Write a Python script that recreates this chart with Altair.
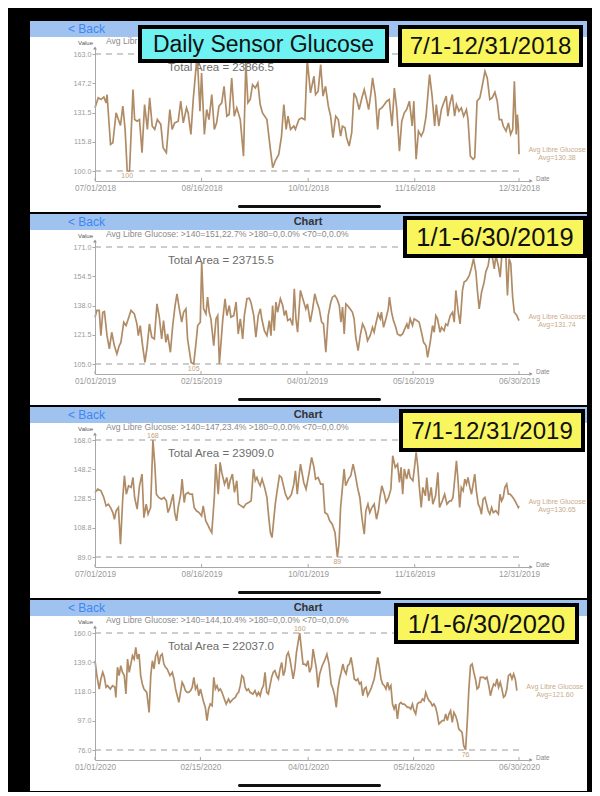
import altair as alt
import pandas as pd

FONT = "Liberation Sans"
LINE_COLOR = "#b08c66"

# ---------------- data ----------------
starts = ["2018-07-01", "2019-01-01", "2019-07-01", "2020-01-01"]
ends = ["2018-12-31", "2019-06-30", "2019-12-31", "2020-06-30"]
tick_dates = [
    ["2018-07-01", "2018-08-16", "2018-10-01", "2018-11-16", "2018-12-31"],
    ["2019-01-01", "2019-02-15", "2019-04-01", "2019-05-16", "2019-06-30"],
    ["2019-07-01", "2019-08-16", "2019-10-01", "2019-11-16", "2019-12-31"],
    ["2020-01-01", "2020-02-15", "2020-04-01", "2020-05-16", "2020-06-30"],
]
y_ticks = [
    [163.0, 147.2, 131.5, 115.8, 100.0],
    [171.0, 154.5, 138.0, 121.5, 105.0],
    [168.0, 148.2, 128.5, 108.8, 89.0],
    [160.0, 139.0, 118.0, 97.0, 76.0],
]
period_labels = ["7/1-12/31/2018", "1/1-6/30/2019", "7/1-12/31/2019", "1/1-6/30/2020"]
total_areas = ["23866.5", "23715.5", "23909.0", "22037.0"]
avg_values = ["130.38", "131.74", "130.65", "121.60"]
stats_texts = [
    "Avg Libr",
    "Avg Libre Glucose: >140=151,22.7%  >180=0,0.0%  <70=0,0.0%",
    "Avg Libre Glucose: >140=147,23.4%  >180=0,0.0%  <70=0,0.0%",
    "Avg Libre Glucose: >140=144,10.4%  >180=0,0.0%  <70=0,0.0%",
]
title_text = "Daily Sensor Glucose"
show_max_label = [False, False, True, True]
show_chart_title = [False, True, True, True]

days_2018b = [0, 1.4, 2.6, 3.8, 4.8, 5.2, 6.7, 7.7, 9.1, 10.1,
              11.0, 12.0, 13.0, 13.9, 14.9, 16.4, 17.1, 18.2, 19.2, 20.3,
              21.4, 22.6, 23.6, 24.7, 25.8, 26.9, 28.4, 29.4, 30.8, 32.3,
              33.3, 34.4, 35.9, 37.0, 38.1, 39.5, 40.2, 41.4, 42.4, 43.4,
              44.1, 45.3, 46.0, 47.2, 48.2, 49.2, 50.4, 51.5, 52.5, 53.5,
              54.7, 55.7, 56.9, 57.9, 59.0, 60.1, 61.2, 62.7, 64.1, 65.1,
              66.0, 67.0, 68.0, 69.2, 70.3, 71.3, 72.3, 74.2, 75.7, 76.7,
              77.8, 79.3, 80.5, 81.5, 82.5, 83.3, 84.4, 85.8, 86.5, 88.0,
              89.1, 90.6, 91.6,
              93.0, 94.5, 95.2, 96.3, 97.4, 98.4, 99.5, 100.7, 101.7, 102.7,
              103.9, 105.0, 106.0, 106.8, 107.9, 108.6, 109.7, 110.8, 111.8, 112.8,
              114.0, 115.2, 116.2, 117.2, 118.1, 119.1, 119.8, 121.0, 122.0, 122.7,
              123.8, 124.9, 125.9, 127.0, 128.2, 129.2, 130.2, 131.4, 132.4, 133.5,
              134.5, 135.7, 136.9, 137.6, 138.6, 139.6, 140.8, 141.8, 142.9, 144.4,
              145.5, 146.6, 147.3, 148.4, 149.5, 150.5, 151.6, 152.3, 153.1, 154.2,
              155.2, 156.0, 157.1, 158.1, 159.1, 160.3, 161.0, 162.0, 163.2, 163.9,
              164.9, 166.1, 167.1, 168.3, 169.3, 170.4, 171.4, 172.6, 173.6, 174.5,
              175.5, 176.2, 177.4, 178.4, 179.4, 180.3, 181.0, 181.8, 182.3, 182.7,
              183.0]
vals_2018b = [134.0, 139.4, 138.5, 139.9, 136.7, 141.2, 114.3, 115.2, 131.3, 127.7,
              124.5, 134.9, 122.4, 100.0, 100.0, 143.8, 127.7, 126.8, 127.7, 109.8,
              135.8, 122.4, 139.4, 124.2, 122.4, 127.7, 125.1, 112.5, 109.8, 133.1,
              122.4, 125.9, 126.8, 137.6, 125.9, 134.0, 131.3, 119.7, 138.5, 152.8,
              163.0, 132.2, 152.8, 119.7, 133.1, 127.7, 141.2, 122.4, 125.9, 134.9,
              136.7, 145.6, 129.5, 130.4, 150.1, 129.5, 134.0, 127.7, 108.0, 158.2,
              136.7, 138.5, 146.5, 144.7, 147.4, 135.8, 131.3, 127.7, 111.6, 101.8,
              105.4, 108.9, 118.8, 135.8, 122.4, 129.5, 122.4, 124.2, 122.4, 127.7,
              128.6, 127.7, 160.0,
              142.1, 151.0, 141.2, 143.0, 157.3, 140.3, 145.6, 134.9, 129.5, 117.9,
              129.5, 127.7, 118.8, 124.2, 123.3, 117.9, 113.4, 120.6, 142.1, 139.4,
              133.1, 139.4, 143.8, 138.5, 133.1, 142.1, 150.1, 140.3, 122.4, 133.1,
              134.0, 135.8, 137.6, 138.5, 124.2, 144.7, 134.0, 110.7, 126.8, 131.3,
              133.1, 137.6, 124.2, 137.6, 106.3, 121.5, 118.8, 121.5, 129.5, 151.9,
              140.3, 124.2, 135.8, 124.2, 133.1, 136.7, 140.3, 129.5, 135.8, 141.2,
              129.5, 135.8, 132.2, 134.0, 129.5, 133.1, 127.7, 108.0, 106.3, 107.2,
              137.6, 139.4, 145.6, 153.7, 150.1, 138.5, 139.4, 142.4, 137.6, 127.7,
              127.7, 124.2, 121.5, 125.9, 119.7, 122.4, 148.3, 119.7, 130.4, 124.2,
              109.0]

days_2019a = [0, 0.8, 1.8, 2.5, 3.3, 4.0, 5.1, 6.1, 7.1, 8.2,
              9.3, 10.3, 11.0, 12.2, 13.2, 13.9, 15.3, 16.7, 17.8, 18.4,
              19.2, 20.2, 21.2, 22.1, 23.1, 24.1, 25.2, 26.3, 27.3, 28.3,
              29.1, 30.1, 30.8, 32.0, 33.0, 34.0, 34.8, 35.8, 36.8, 37.6,
              38.6, 39.3, 40.8, 41.9, 42.9, 43.6, 44.7, 45.3, 46.1, 47.1,
              47.8, 48.5, 49.2, 50.4, 51.4, 52.1, 52.8, 53.5, 54.2, 55.2,
              56.0, 57.0, 57.7, 58.9, 59.9, 60.8, 61.7, 62.7, 63.4, 64.5,
              65.5, 66.2, 67.4, 68.3, 69.3, 70.2, 70.8, 71.9, 73.0, 74.0,
              74.7, 75.4, 76.1, 76.8, 77.5, 78.7, 79.7, 80.4, 81.1, 81.8,
              82.9, 83.9, 84.6, 85.3, 86.0, 87.2,
              89.5, 90.2, 91.4, 92.4, 93.3, 94.2, 95.2, 96.2, 97.0, 98.0,
              99.0, 100.1, 100.8, 101.8, 102.7, 103.7, 104.4, 105.1, 105.8, 106.5,
              107.2, 108.3, 109.3, 110.0, 110.7, 111.7, 112.6, 113.6, 114.3, 115.0,
              115.7, 116.8, 117.8, 118.5, 119.2, 120.2, 121.1, 121.6, 122.5, 123.5,
              124.5, 125.0, 125.9, 126.7, 127.7, 128.4, 129.6, 130.6, 131.5, 132.4,
              133.0, 133.8, 134.8, 135.5, 136.6, 137.6, 138.6, 139.5, 140.5, 141.2,
              142.3, 143.3, 144.0, 144.7, 145.4, 146.5, 147.1, 148.2, 148.9, 149.7,
              150.8, 151.8, 152.5, 153.2, 154.2, 155.0, 156.0, 156.7, 157.7, 158.9,
              159.9, 160.7, 161.7, 162.4, 163.1, 164.1, 165.2, 165.9, 166.9, 167.8,
              168.8, 169.5, 170.2, 171.2, 172.0, 172.7, 173.7, 174.4, 175.1, 175.8,
              176.5, 177.3, 178.0, 179.1, 180.0]
vals_2019a = [131.4, 135.2, 135.2, 121.0, 134.2, 134.6, 121.0, 113.5, 122.9, 115.4,
              110.6, 115.4, 117.2, 128.6, 126.7, 129.5, 135.2, 133.3, 127.6, 121.0,
              126.7, 115.4, 105.9, 114.4, 127.6, 120.1, 119.1, 138.9, 131.4, 119.1,
              129.5, 117.2, 122.0, 111.6, 126.7, 138.0, 144.6, 136.1, 128.6, 134.2,
              136.1, 119.1, 105.9, 105.0, 117.2, 126.7, 128.6, 162.5, 136.1, 133.3,
              142.7, 134.2, 130.5, 115.4, 130.5, 132.3, 105.0, 117.2, 129.5, 141.8,
              132.3, 138.0, 131.4, 132.3, 139.9, 122.0, 130.5, 119.1, 132.3, 141.8,
              142.1, 139.9, 132.3, 120.1, 132.3, 136.1, 130.5, 123.8, 121.0, 129.5,
              121.0, 138.0, 123.8, 139.9, 134.2, 141.8, 138.0, 132.3, 135.2, 129.5,
              130.5, 126.7, 147.4, 130.5, 122.9, 146.5,
              136.1, 138.9, 128.6, 136.1, 144.6, 139.9, 136.1, 128.6, 127.6, 111.6,
              132.3, 139.9, 142.7, 143.7, 141.8, 138.0, 128.6, 137.1, 122.0, 138.9,
              138.0, 136.1, 134.2, 130.5, 120.1, 112.5, 121.0, 127.6, 125.7, 122.9,
              118.2, 121.0, 125.7, 122.9, 127.6, 133.3, 130.5, 134.2, 125.7, 130.5,
              136.1, 142.7, 134.2, 129.5, 125.7, 122.0, 121.0, 122.0, 124.8, 127.6,
              124.8, 130.5, 126.7, 130.5, 129.5, 128.6, 122.9, 117.2, 115.4, 108.8,
              117.2, 126.7, 122.9, 132.3, 130.5, 122.9, 125.7, 123.8, 127.6, 126.7,
              132.3, 134.2, 128.6, 146.5, 134.2, 127.6, 146.5, 151.2, 152.1, 155.0,
              159.7, 164.4, 156.9, 145.5, 136.1, 145.5, 151.2, 156.9, 160.6, 168.2,
              164.4, 158.7, 166.3, 160.6, 154.0, 166.3, 171.0, 166.3, 143.7, 164.4,
              161.6, 142.7, 134.2, 132.3, 129.5]

days_2019b = [0, 1.2, 2.6, 3.8, 4.8, 5.8, 6.7, 7.7, 8.4, 9.1,
              10.1, 11.0, 12.0, 12.7, 13.5, 14.5, 15.6, 16.4, 17.1, 18.2,
              19.2, 20.3, 21.1, 22.1, 22.9, 24.0, 25.0, 25.8, 26.5, 27.5,
              28.7, 29.8, 30.8, 31.5, 32.3, 33.0, 33.7, 34.4, 35.2, 35.9,
              37.0, 37.6, 38.5, 39.1, 40.2, 40.9, 42.0, 42.8, 43.8, 44.9,
              46.0, 46.7, 47.8, 48.6, 49.6, 50.4, 51.5, 52.1, 53.2, 54.0,
              54.7, 55.9, 56.9, 57.6, 58.3, 59.3, 60.2, 61.2, 61.9, 63.1,
              64.1, 65.1, 66.3, 67.4, 68.4, 69.2, 69.9, 70.6, 71.3, 72.1,
              73.2, 74.2, 75.0, 75.7, 76.4, 77.1, 77.8, 78.6, 79.6, 80.5,
              81.5, 82.2, 83.2, 83.9, 84.8, 85.8, 86.5, 87.3, 88.0, 88.7,
              90.1, 91.1, 92.3, 93.5, 94.5, 95.2, 96.3, 97.4, 98.4, 99.2,
              100.3, 101.3, 102.4, 103.6, 104.6, 105.3, 106.0, 106.8, 107.5, 108.2,
              109.4, 110.4, 111.4, 112.3, 113.3, 114.3, 115.2, 116.2, 116.9, 117.8,
              118.6, 119.5, 120.5, 121.5, 122.4, 123.0, 123.8, 124.9, 125.6, 126.7,
              127.7, 128.5, 129.6, 130.6, 131.4, 132.1, 132.8, 133.5, 134.5, 135.4,
              136.0, 137.2, 137.9, 138.6, 139.3, 140.0, 140.8, 141.5, 142.6, 143.2,
              144.1, 145.1, 145.8, 147.0, 148.0, 148.7, 149.9, 150.9, 151.9, 153.1,
              153.8, 154.5, 155.2, 156.0, 156.7, 157.4, 158.1, 158.9, 159.6, 160.3,
              161.0, 161.8, 162.5, 163.2, 163.9, 164.6, 165.4, 166.1, 166.8, 167.5,
              168.3, 169.0, 169.7, 170.4, 171.2, 171.9, 173.0, 174.1, 174.8, 175.5,
              176.2, 176.9, 177.7, 178.4, 179.1, 179.8, 180.9, 182.0, 182.7, 183.0]
vals_2019b = [132.6, 134.8, 133.7, 129.2, 123.5, 124.7, 122.4, 119.0, 114.5, 120.2,
              122.4, 97.6, 129.2, 143.9, 131.4, 137.1, 136.0, 142.7, 129.2, 121.3,
              137.1, 145.0, 115.6, 124.7, 117.9, 122.4, 168.0, 151.7, 131.4, 129.2,
              128.0, 129.2, 126.9, 119.0, 122.4, 126.9, 131.4, 119.0, 113.4, 122.4,
              131.4, 141.6, 125.8, 131.4, 132.6, 131.4, 131.4, 122.4, 120.2, 119.0,
              116.8, 123.5, 113.4, 111.1, 107.7, 105.5, 129.2, 151.7, 131.4, 152.9,
              146.1, 138.2, 142.7, 134.8, 140.5, 145.0, 132.6, 140.5, 124.7, 123.5,
              122.4, 124.7, 125.8, 126.9, 148.4, 140.5, 142.7, 139.3, 137.1, 141.6,
              136.0, 129.2, 115.6, 105.5, 102.1, 113.4, 124.7, 133.7, 143.9, 142.7,
              136.0, 131.4, 128.0, 129.2, 131.4, 138.2, 147.2, 131.4, 142.7, 151.7,
              139.3, 134.8, 145.0, 156.3, 149.5, 141.6, 142.7, 138.2, 138.2, 119.0,
              117.9, 113.4, 111.1, 105.5, 89.0, 97.6, 122.4, 136.0, 148.4, 137.1,
              141.6, 143.9, 151.7, 145.0, 136.0, 129.2, 115.6, 104.4, 120.2, 124.7,
              119.0, 122.4, 124.7, 114.5, 121.3, 129.2, 137.1, 131.4, 125.8, 129.2,
              134.8, 157.4, 149.5, 151.7, 139.3, 149.5, 131.4, 148.4, 141.6, 148.4,
              142.7, 140.5, 149.5, 159.6, 150.6, 136.0, 122.4, 136.0, 130.3, 142.7,
              126.9, 136.0, 124.7, 130.3, 146.1, 122.4, 126.9, 131.4, 124.7, 126.9,
              126.9, 129.2, 140.5, 154.0, 140.5, 122.4, 136.0, 133.7, 141.6, 138.2,
              142.7, 136.0, 131.4, 138.2, 145.0, 133.7, 124.7, 122.4, 117.9, 128.0,
              129.2, 124.7, 120.2, 117.9, 122.4, 119.0, 120.2, 117.9, 131.4, 126.9,
              129.2, 136.0, 138.2, 131.4, 131.4, 130.3, 128.0, 124.7, 122.4, 123.5]

days_2020a = [0, 0.8, 1.8, 2.5, 3.3, 4.0, 4.7, 5.4, 6.5, 7.5,
              8.5, 8.9, 9.6, 10.3, 11.0, 11.7, 12.5, 13.2, 13.9, 14.6,
              15.3, 16.0, 16.7, 17.4, 18.1, 18.8, 19.5, 20.2, 20.9, 22.1,
              23.1, 23.8, 24.5, 25.2, 25.9, 26.6, 27.3, 28.0, 28.7, 29.4,
              30.1, 30.8, 32.0, 33.0, 33.7, 34.4, 35.1, 35.8, 36.5, 37.2,
              37.9, 38.6, 39.3, 40.0, 40.8, 41.5, 42.2, 42.9, 43.6, 44.3,
              45.0, 45.7, 46.4, 47.1, 47.8, 48.5, 49.2, 50.0, 50.7, 51.4,
              52.1, 52.8, 53.5, 54.2, 55.2, 56.0, 57.0, 57.7, 58.9, 59.9,
              60.6, 61.3, 62.0, 62.7, 63.4, 64.1, 64.8, 65.5, 66.2, 67.4,
              68.3, 69.1, 69.8, 70.5, 71.2, 71.9, 72.6, 73.3, 74.0, 74.7,
              75.4, 76.1, 76.8, 77.5, 78.3, 79.0, 79.7, 80.4, 81.1, 81.8,
              82.5, 83.2, 83.9, 84.6, 85.3, 86.0, 86.7, 87.4,
              88.1, 88.8, 89.5, 90.2, 90.9, 91.6, 92.4, 93.1, 93.8, 94.5,
              95.2, 95.9, 97.0, 98.0, 99.0, 99.9, 100.8, 101.6, 102.3, 103.0,
              103.7, 104.4, 105.1, 105.8, 106.5, 107.2, 107.9, 108.6, 109.3, 110.0,
              110.7, 111.5, 112.2, 112.9, 113.6, 114.3, 115.0, 115.7, 116.4, 117.1,
              117.8, 118.5, 119.2, 119.9, 120.7, 121.4, 122.1, 122.8, 123.5, 124.2,
              124.9, 125.6, 126.3, 127.0, 127.7, 128.4, 129.1, 129.9, 130.6, 131.3,
              132.0, 132.7, 133.4, 134.1, 134.8, 135.5, 136.2, 136.9, 137.6, 138.3,
              139.0, 139.8, 140.5, 141.2, 141.9, 142.6, 143.3, 144.0, 144.7, 145.4,
              146.1, 146.8, 147.5, 148.2, 149.0, 149.7, 150.4, 151.1, 151.8, 152.5,
              153.2, 153.9, 154.6, 155.3, 156.0, 156.7, 157.4, 158.2, 158.9, 159.6,
              160.3, 161.0, 161.7, 162.4, 163.1, 163.8, 164.5, 165.2, 165.9, 166.6,
              167.3, 168.1, 168.8, 169.5, 170.2, 170.9, 171.6, 172.3, 173.0, 173.7,
              174.4, 175.1, 175.8, 176.5, 177.3, 178.0, 178.7, 179.4, 180.1]
vals_2020a = [140.1, 129.4, 119.8, 127.0, 131.8, 128.2, 121.0, 122.2, 119.8, 122.2,
              121.0, 113.8, 135.4, 129.4, 136.5, 131.8, 129.4, 116.2, 141.3, 131.8,
              137.7, 143.7, 141.3, 149.7, 141.3, 144.9, 129.4, 123.4, 119.8, 117.4,
              103.0, 129.4, 140.1, 134.2, 143.7, 146.1, 137.7, 143.7, 144.9, 137.7,
              135.4, 134.2, 129.4, 131.8, 127.0, 119.8, 115.0, 110.2, 117.4, 124.6,
              122.2, 118.6, 117.4, 117.4, 118.6, 121.0, 128.2, 119.8, 122.2, 115.0,
              119.8, 115.0, 110.2, 106.6, 97.1, 105.4, 109.0, 107.8, 128.2, 119.8,
              122.2, 118.6, 119.8, 117.4, 112.6, 109.0, 112.6, 110.2, 112.6, 113.8,
              116.2, 117.4, 122.2, 129.4, 128.2, 121.0, 118.6, 119.8, 117.4, 116.2,
              118.6, 115.0, 117.4, 115.0, 119.8, 122.2, 131.8, 117.4, 116.2, 122.2,
              128.2, 131.8, 133.0, 129.4, 127.0, 134.2, 138.9, 129.4, 133.0, 143.7,
              146.1, 141.3, 134.2, 127.0, 134.2, 146.1, 153.3, 160.0,
              148.5, 137.7, 137.7, 136.5, 140.1, 131.8, 135.4, 148.5, 141.3, 134.2,
              121.0, 130.6, 136.5, 140.1, 144.9, 137.7, 123.4, 119.8, 115.0, 106.6,
              119.8, 127.0, 131.8, 137.7, 133.0, 130.6, 136.5, 137.7, 142.5, 135.4,
              127.0, 125.8, 127.0, 123.4, 124.6, 115.0, 119.8, 121.0, 115.0, 117.4,
              119.8, 123.4, 127.0, 134.2, 142.5, 135.4, 127.0, 123.4, 122.2, 119.8,
              124.6, 119.8, 122.2, 109.0, 105.4, 109.0, 98.3, 109.0, 110.2, 109.0,
              109.0, 107.8, 106.6, 106.6, 105.4, 109.0, 104.2, 101.8, 109.0, 110.2,
              110.2, 112.6, 111.4, 117.4, 113.8, 111.4, 110.2, 107.8, 109.0, 106.6,
              101.8, 94.7, 95.9, 97.1, 97.1, 101.8, 97.1, 101.8, 104.2, 95.9,
              103.0, 100.7, 97.1, 91.1, 89.9, 88.7, 79.1, 76.0, 95.9, 119.8,
              136.5, 137.7, 131.8, 127.0, 119.8, 121.0, 128.2, 128.2, 128.2, 127.0,
              128.2, 122.2, 115.0, 119.8, 123.4, 122.2, 127.0, 121.0, 124.6, 119.8,
              113.8, 115.0, 119.8, 129.4, 130.6, 127.0, 130.6, 127.0, 118.6]

all_days = [days_2018b, days_2019a, days_2019b, days_2020a]
all_vals = [vals_2018b, vals_2019a, vals_2019b, vals_2020a]

# ---------------- layout constants (pixels relative to plot area) ----------------
W, H = 436, 133
PANEL = (-65, 492, -27, 164)
# outer edges of the black-framed label boxes
yellow_boxes = [(303, 488, -23, 19), (308, 492, -25, 17), (304, 490, -25, 18), (299, 484, -24, 17)]
yellow_font = [24, 25.5, 24, 25.5]
cyan_box = (43, 294, -23, 15)
FRAME = 4

ONE = pd.DataFrame({"k": [0]})


def rect(x, x2, y, y2, fill, cr=0):
    return alt.Chart(ONE).mark_rect(fill=fill, cornerRadius=cr).encode(
        x=alt.value(x), x2=alt.value(x2), y=alt.value(y), y2=alt.value(y2))


def framed(box, fill):
    x, x2, y, y2 = box
    return [rect(x, x2, y, y2, "#000000"),
            rect(x + FRAME, x2 - FRAME, y + FRAME, y2 - FRAME, fill)]


def label(txt, x, y, size, color, align="left", weight="normal", baseline="middle"):
    return alt.Chart(ONE).mark_text(
        text=txt, align=align, baseline=baseline, fontSize=size, color=color,
        font=FONT, fontWeight=weight).encode(x=alt.value(x), y=alt.value(y))


def dt(ts):
    return alt.DateTime(year=int(ts.year), month=int(ts.month), date=int(ts.day),
                        hours=int(ts.hour), minutes=int(ts.minute))


def panel(i):
    start = pd.Timestamp(starts[i])
    end = pd.Timestamp(ends[i])
    df = pd.DataFrame({"date": start + pd.to_timedelta(all_days[i], unit="D"),
                       "value": all_vals[i]})
    yt = y_ticks[i]
    ymax, ymin = max(yt), min(yt)
    span = ymax - ymin
    ys = alt.Scale(domain=[ymin - span * 10 / 117, ymax + span * 6 / 117], nice=False, zero=False)
    xend = end + (end - start) * 12 / 424
    xs = alt.Scale(domain=[dt(start), dt(xend)], nice=False)
    xax = alt.Axis(values=[dt(pd.Timestamp(t)) for t in tick_dates[i]], format="%m/%d/%Y",
                   title=None, grid=False, ticks=False, labelPadding=3, labelFontSize=8.2,
                   labelColor="#9a9a9a", domainColor="#a8a8a8", labelFlush=False,
                   labelOverlap=False, labelFont=FONT, zindex=1)
    yax = alt.Axis(values=yt, format=".1f", title=None, grid=False, tickSize=3,
                   tickColor="#a8a8a8", labelPadding=1, labelFontSize=7.2,
                   labelColor="#9a9a9a", domainColor="#a8a8a8", labelOverlap=False,
                   labelFlush=False, labelFont=FONT, zindex=1)
    X = alt.X("date:T", scale=xs, axis=xax)
    Y = alt.Y("value:Q", scale=ys, axis=yax)

    layers = []
    layers.append(rect(PANEL[0], PANEL[1], PANEL[2], PANEL[3], "white"))
    layers.append(rect(PANEL[0], PANEL[1], PANEL[2], -11, "#9fc2ee"))
    layers.append(label("< Back", -27, -19, 12, "#3d86f5"))
    if show_chart_title[i]:
        layers.append(label("Chart", 213, -19, 11, "#333333", align="center", weight="bold"))
    layers.append(label("Value", -2, -5, 6, "#555555", align="right"))
    layers.append(label(stats_texts[i], 11, -7, 8.6, "#8a8a8a"))
    layers.append(label("Total Area = " + total_areas[i], 126, 19.5, 11.5, "#6b6b6b", align="center"))

    rules = pd.DataFrame({"date": [start, start], "date2": [end, end], "value": [ymax, ymin]})
    layers.append(alt.Chart(rules).mark_rule(color="#9a9a9a", strokeDash=[6, 5], strokeWidth=1)
                  .encode(x=X, x2="date2:T", y=Y))

    ticks = pd.DataFrame({"date": pd.to_datetime(tick_dates[i])})
    layers.append(alt.Chart(ticks).mark_rule(color="#a8a8a8", strokeWidth=1)
                  .encode(x=X, y=alt.value(H - 3), y2=alt.value(H)))

    layers.append(alt.Chart(df).mark_line(color=LINE_COLOR, strokeWidth=1.7)
                  .encode(x=X, y=Y))

    lo = df.loc[[df["value"].idxmin()]]
    layers.append(alt.Chart(lo).mark_text(baseline="top", dy=1, fontSize=7, color="#c4a27e", font=FONT)
                  .encode(x=X, y=Y, text=alt.Text("value:Q", format=".0f")))
    if show_max_label[i]:
        hi = df.loc[[df["value"].idxmax()]]
        layers.append(alt.Chart(hi).mark_text(baseline="bottom", dy=-1, fontSize=7, color="#c4a27e", font=FONT)
                      .encode(x=X, y=Y, text=alt.Text("value:Q", format=".0f")))

    last = df.tail(1).copy()
    last["t1"] = "Avg Libre Glucose"
    last["t2"] = "Avg=" + avg_values[i]
    layers.append(alt.Chart(last).mark_text(dx=38, dy=-4, align="center", baseline="middle",
                                            fontSize=7, color="#c9ab8b", font=FONT)
                  .encode(x=X, y=Y, text="t1:N"))
    layers.append(alt.Chart(last).mark_text(dx=38, dy=4, align="center", baseline="middle",
                                            fontSize=7, color="#c9ab8b", font=FONT)
                  .encode(x=X, y=Y, text="t2:N"))

    layers.append(alt.Chart(ONE).mark_point(shape="triangle-right", size=14, filled=True,
                                            color="#8a8a8a", opacity=1)
                  .encode(x=alt.value(W), y=alt.value(H)))
    layers.append(alt.Chart(ONE).mark_point(shape="triangle-up", size=14, filled=True,
                                            color="#8a8a8a", opacity=1)
                  .encode(x=alt.value(0), y=alt.value(0)))
    layers.append(label("Date", 441, H - 2, 6.5, "#888888"))

    bx = yellow_boxes[i]
    layers += framed(bx, "#f8f65c")
    layers.append(label(period_labels[i], (bx[0] + bx[1]) / 2, (bx[2] + bx[3]) / 2 + 1,
                        yellow_font[i], "#111111", align="center"))
    if i == 0:
        layers += framed(cyan_box, "#6ef2f2")
        layers.append(label(title_text, (cyan_box[0] + cyan_box[1]) / 2,
                            (cyan_box[2] + cyan_box[3]) / 2 + 1, 23, "#111111", align="center"))

    layers.append(rect(143, 286, 157, 160, "#111111", cr=1.5))

    return alt.layer(*layers).properties(width=W, height=H)


chart = alt.vconcat(*[panel(i) for i in range(4)], spacing=0).properties(
    background="black",
    padding={"left": 21, "top": 12, "right": 4, "bottom": 0},
).configure_view(stroke="transparent")

chart.save("out.html", embed_options={"renderer": "svg", "actions": False})
